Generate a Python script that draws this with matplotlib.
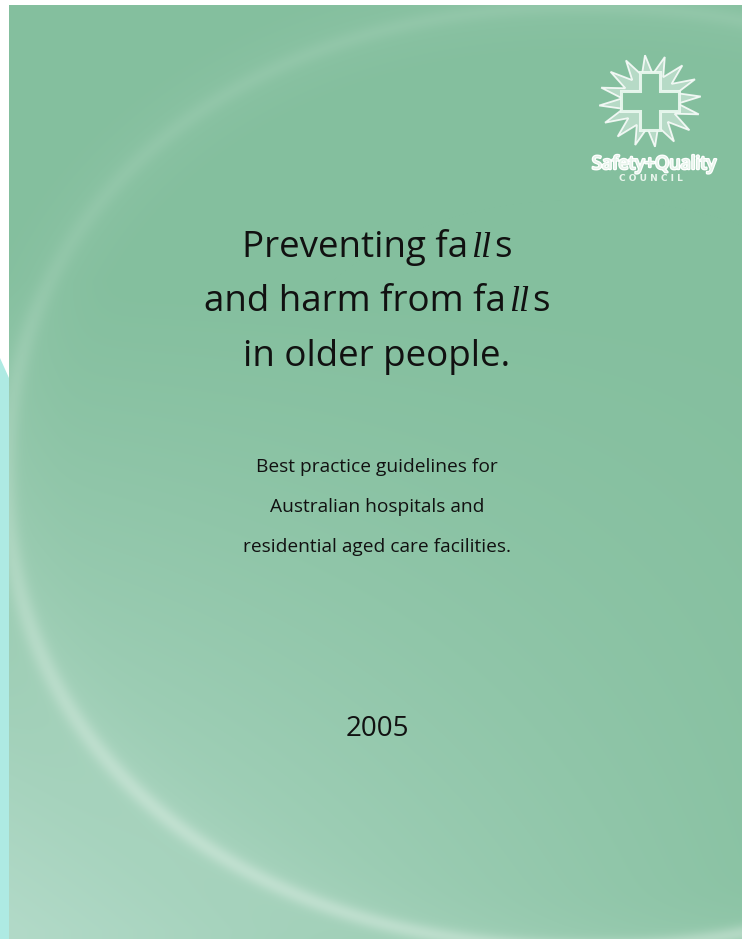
import numpy as np
import matplotlib
matplotlib.use("Agg")
import matplotlib.pyplot as plt
from matplotlib.patches import Polygon
import matplotlib.patheffects as pe

# cover texts
title_lines = [
    [("Preventing fa", "normal"), ("ll", "italic"), ("s", "normal")],
    [("and harm from fa", "normal"), ("ll", "italic"), ("s", "normal")],
    [("in older people.", "normal")],
]
subtitle_lines = [
    "Best practice guidelines for",
    "Australian hospitals and",
    "residential aged care facilities.",
]
year = "2005"
logo_name = "Safety+Quality"
logo_sub = "C O U N C I L"

W, H = 742, 939
fig = plt.figure(figsize=(7.42, 9.39), dpi=100)
fig.patch.set_facecolor("white")
ax = fig.add_axes([0, 0, 1, 1])
ax.set_xlim(0, W)
ax.set_ylim(H, 0)
ax.axis("off")

# page background: green with lighter lower-left and a soft light ring
px0, py0 = 9, 5
yy, xx = np.mgrid[py0:H, px0:W] + 0.5
base = np.array([132, 191, 158]) / 255
light = np.array([178, 218, 200]) / 255
L = np.clip((yy - 280) / 650, 0, 1) * (1 - 0.8 * (xx - px0) / (W - px0))
L = np.clip(L, 0, 1) ** 1.1
img = base * (1 - L[..., None]) + light * L[..., None]

cx, cy, a, b, p = 585, 477, 578, 470, 2.15
r = (np.abs((xx - cx) / a) ** p + np.abs((yy - cy) / b) ** p) ** (1 / p)
d = (r - 1) * 500
strength = 0.09 + 0.30 * np.clip((yy - 250) / 550, 0, 1)
glow = strength * np.exp(-(d / 9) ** 2) + 0.05 * np.exp(-(d / 35) ** 2)
ring = np.array([228, 242, 234]) / 255
img = img * (1 - glow[..., None]) + ring * glow[..., None]
ax.imshow(img, extent=(px0, W, H, py0), interpolation="bilinear", zorder=0)
ax.set_xlim(0, W)
ax.set_ylim(H, 0)

# cyan strip on the left edge
ax.add_patch(Polygon([(0, 358), (px0, 378), (px0, H), (0, H)],
                     closed=True, facecolor="#aeeae3", edgecolor="none", zorder=1))

renderer = fig.canvas.get_renderer()


def draw_runs(runs, xc, y, size):
    texts = []
    for s, style in runs:
        if style == "italic":
            t = ax.text(0, y, s, fontsize=size * 0.98, family="Liberation Serif",
                        style="italic", ha="left", va="baseline", color="#111111", zorder=5)
        else:
            t = ax.text(0, y, s, fontsize=size, family="Open Sans",
                        ha="left", va="baseline", color="#111111", zorder=5)
        texts.append(t)
    widths = [t.get_window_extent(renderer).width for t in texts]
    gap = 3
    total = sum(widths) + gap * (len(texts) - 1)
    x = xc - total / 2
    for t, w in zip(texts, widths):
        t.set_x(x)
        x += w + gap


for runs, yb in zip(title_lines, [257, 311, 366]):
    draw_runs(runs, 377, yb, 26.5)

for s, yb in zip(subtitle_lines, [472, 512, 552]):
    ax.text(377, yb, s, fontsize=13.8, family="Open Sans", ha="center",
            va="baseline", color="#111111", zorder=5)

ax.text(377, 736, year, fontsize=20, family="Open Sans", ha="center",
        va="baseline", color="#111111", zorder=5)

# logo: starburst with a cross cut out
lx, ly = 650, 101
n = 16
k = np.arange(2 * n)
ang = -np.pi / 2 - np.pi / (2 * n) + k * np.pi / n  # tips either side of the vertical
rx = np.where(k % 2 == 0, 51, 28)
ry = np.where(k % 2 == 0, 46, 27)
star = np.column_stack([lx + rx * np.cos(ang), ly + ry * np.sin(ang)])
ax.add_patch(Polygon(star, closed=True, facecolor=(0.88, 0.95, 0.91, 0.55),
                     edgecolor=(1, 1, 1, 0.85), linewidth=1.3, zorder=3))
hl, hw = 29, 10
cross = [(lx - hw, ly - hl), (lx + hw, ly - hl), (lx + hw, ly - hw), (lx + hl, ly - hw),
         (lx + hl, ly + hw), (lx + hw, ly + hw), (lx + hw, ly + hl), (lx - hw, ly + hl),
         (lx - hw, ly + hw), (lx - hl, ly + hw), (lx - hl, ly - hw), (lx - hw, ly - hw)]
ax.add_patch(Polygon(cross, closed=True, facecolor="#86c1a0",
                     edgecolor=(0.93, 0.98, 0.95, 0.9), linewidth=2.2, zorder=4))

t = ax.text(654, 169, logo_name, fontsize=14, family="Noto Sans", fontweight="black",
            fontstretch="condensed", ha="center", va="baseline", color="#e8f5ec", zorder=5,
            path_effects=[pe.withStroke(linewidth=1.8, foreground="#ffffff")])
w = t.get_window_extent(renderer).width
t.set_fontsize(14 * 124 / w)
ax.text(651, 181, logo_sub, fontsize=6.5, family="DejaVu Sans", fontweight="bold",
        ha="center", va="baseline", color="#e8f5ec", zorder=5)

fig.savefig("out.png", dpi=100)
